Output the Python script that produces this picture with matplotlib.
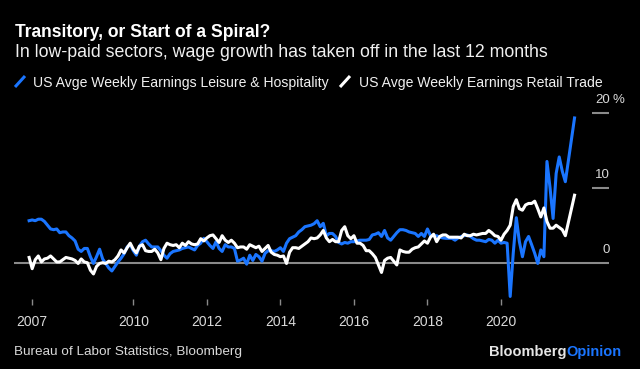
import matplotlib
matplotlib.use("Agg")
import matplotlib.pyplot as plt
from matplotlib import font_manager
from matplotlib.lines import Line2D
import pandas as pd
import numpy as np

# ---------------- data (YoY %, monthly, Mar 2007 - Jan 2022) ----------------
start_month = "2007-03"
leisure = [
    5.6, 5.7, 5.6, 5.8, 5.8, 5.5, 5.0, 4.5, 4.4, 4.5,                   # 2007
    4.0, 4.1, 4.1, 3.6, 3.3, 2.9, 1.8, 1.5, 1.9, 1.9, 0.8, -0.1,        # 2008
    0.8, 1.8, 0.5, -0.1, -0.7, -1.1, -0.5, 0.1, 0.6, 1.2, 2.1, 2.4,     # 2009
    1.6, 1.0, 2.2, 2.8, 3.0, 2.5, 2.1, 2.1, 2.1, 1.6, 1.0, 0.6,         # 2010
    1.2, 1.5, 1.6, 1.7, 1.9, 2.0, 2.1, 1.9, 1.7, 2.3, 2.6, 3.25,        # 2011
    2.8, 2.3, 1.9, 2.8, 1.9, 1.5, 2.4, 2.1, 2.1, 1.9, 0.2, 0.36,        # 2012
    0.6, -0.2, 1.0, 0.3, 1.1, 0.8, 0.2, 1.25, 1.6, 1.6, 1.5, 1.7,       # 2013
    2.0, 1.5, 2.6, 3.2, 3.4, 3.6, 4.1, 4.4, 4.8, 4.9, 5.0, 5.2,         # 2014
    5.6, 4.8, 5.25, 3.6, 3.9, 3.9, 3.5, 2.7, 2.5, 2.7, 2.6, 2.8,        # 2015
    2.8, 2.9, 3.0, 3.0, 3.0, 3.1, 3.7, 3.8, 4.0, 3.5, 4.3, 3.3,         # 2016
    3.0, 3.5, 4.0, 4.4, 4.4, 4.3, 4.1, 4.0, 3.9, 3.5, 3.9, 3.5,         # 2017
    4.5, 3.6, 3.6, 3.6, 3.4, 3.3, 3.25, 3.25, 3.25, 3.0, 3.3, 3.5,      # 2018
    3.6, 3.7, 3.5, 3.2, 3.0, 3.0, 2.9, 2.8, 3.1, 3.0, 2.6, 3.0,         # 2019
    2.6, 2.7, 2.6, -4.5, 1.3, 6.0, 2.8, 0.8, 2.8, 3.5, 2.4, 1.25,       # 2020
    -0.1, 1.7, 0.8, 13.5, 10.0, 5.9, 11.9, 14.1, 12.2, 10.8, 13.6, 16.5,  # 2021
    19.3,                                                              # 2022
]
retail = [
    0.7, -0.8, 0.4, 0.9, 0.1, 0.5, 0.6, 0.9, 0.5, 0.1,                  # 2007
    0.1, 0.4, 0.7, 0.6, 0.5, 0.3, -0.1, 0.5, 0.1, 0.0, -1.0, -1.5,      # 2008
    -0.5, -0.1, 0.0, -0.1, 0.2, 0.1, 0.4, 0.9, 1.7, 1.3, 2.0, 2.6,      # 2009
    1.8, 1.3, 2.2, 2.4, 1.6, 1.5, 1.5, 1.8, 1.3, 0.4, 1.9, 2.6,         # 2010
    2.4, 2.3, 2.4, 2.0, 2.6, 2.3, 2.8, 2.5, 2.4, 2.5, 3.2, 2.9,         # 2011
    3.3, 3.6, 3.7, 3.2, 2.7, 3.6, 3.0, 2.7, 3.0, 2.6, 2.0, 2.1,         # 2012
    2.1, 1.8, 2.4, 2.2, 2.0, 2.2, 1.5, 1.9, 2.3, 1.4, 1.1, 1.0,         # 2013
    0.8, 0.9, -0.1, 1.4, 2.0, 2.0, 1.9, 2.2, 2.5, 2.8, 3.3, 3.2,        # 2014
    3.3, 3.7, 4.3, 3.3, 2.8, 3.1, 2.8, 2.8, 4.3, 4.8, 3.6, 3.2,         # 2015
    3.6, 2.6, 2.6, 2.3, 1.6, 1.6, 1.2, 0.7, -0.3, -1.3, 0.3, 0.6,       # 2016
    0.7, 0.2, -0.3, 1.7, 1.5, 1.4, 1.4, 1.8, 2.0, 2.1, 2.5, 2.9,        # 2017
    2.6, 3.4, 3.8, 2.8, 3.5, 3.7, 3.7, 3.4, 3.4, 3.4, 3.4, 3.3,         # 2018
    3.8, 3.6, 3.6, 3.8, 3.7, 3.8, 3.9, 3.9, 4.3, 4.0, 3.6, 3.5,         # 2019
    3.0, 3.8, 4.3, 5.0, 7.5, 8.4, 7.2, 7.0, 7.7, 7.9, 7.9, 8.2,         # 2020
    7.2, 6.1, 7.3, 5.5, 4.6, 4.6, 5.0, 4.7, 4.4, 3.6, 5.4, 7.2,         # 2021
    9.0,                                                               # 2022
]
series_names = ["US Avge Weekly Earnings Leisure & Hospitality",
                "US Avge Weekly Earnings Retail Trade"]
x_tick_labels = ["2007", "2010", "2012", "2014", "2016", "2018", "2020"]
x_tick_years = [2007.25, 2010, 2012, 2014, 2016, 2018, 2020]
y_labels = ["0", "10", "20"]
y_values = [0, 10, 20]

title = "Transitory, or Start of a Spiral?"
subtitle = "In low-paid sectors, wage growth has taken off in the last 12 months"
source = "Bureau of Labor Statistics, Bloomberg"

# ---------------- style ----------------
BG = "#000000"
BLUE = "#1a75ff"
WHITE = "#ffffff"
GRID = "#8a8a8a"
TXT = "#d9d9d9"

names = {f.name for f in font_manager.fontManager.ttflist}
BASE = "Liberation Sans" if "Liberation Sans" in names else "DejaVu Sans"
TITLE_FONT = "Liberation Sans Narrow" if "Liberation Sans Narrow" in names else BASE

W, H = 640, 369
fig = plt.figure(figsize=(W / 100, H / 100), dpi=100, facecolor=BG)


def fx(x):
    return x / W


def fy(y):
    return 1 - y / H


dates = pd.date_range(start_month, periods=len(leisure), freq="MS")
xdec = dates.year + (dates.month - 1) / 12.0

# axes box in pixels
L, R, T, B = 14, 609, 105, 305
px_per_year = 36.77
x_2010 = 133.3
y0_px, px_per_unit = 262.7, 7.5

ax = fig.add_axes([fx(L), fy(B), (R - L) / W, (B - T) / H])
ax.set_facecolor(BG)
ax.set_xlim(2010 + (L - x_2010) / px_per_year, 2010 + (R - x_2010) / px_per_year)
ax.set_ylim((y0_px - B) / px_per_unit, (y0_px - T) / px_per_unit)
for s in ax.spines.values():
    s.set_visible(False)

ax.axhline(0, color=GRID, lw=1.5, zorder=1)
stub_l = 2010 + (592 - x_2010) / px_per_year
stub_r = 2010 + (R - x_2010) / px_per_year
ax.hlines([10, 20], stub_l, stub_r, color=GRID, lw=1.5, zorder=1)

ax.plot(xdec, leisure, color=BLUE, lw=2.2, solid_joinstyle="round", zorder=3)
ax.plot(xdec, retail, color=WHITE, lw=2.2, solid_joinstyle="round", zorder=4)

ax.set_yticks([])
ax.set_xticks(x_tick_years)
ax.set_xticklabels(x_tick_labels, fontsize=10, color=TXT, family=BASE)
ax.tick_params(axis="x", direction="in", length=4, width=1, color=GRID, pad=7)

# right-hand value labels
lab_x = 2010 + (610 - x_2010) / px_per_year
pct_x = 2010 + (613 - x_2010) / px_per_year
for v, lab in zip(y_values, y_labels):
    ax.text(lab_x, v + 1.3, lab, ha="right", va="baseline", fontsize=9.5,
            color=TXT, family=BASE, clip_on=False)
ax.text(pct_x, y_values[-1] + 1.3, "%", ha="left", va="baseline", fontsize=9.5,
        color=TXT, family=BASE, clip_on=False)

# ---------------- header texts ----------------
renderer = fig.canvas.get_renderer()


def fit(t, width):
    for _ in range(3):
        w = t.get_window_extent(renderer).width
        t.set_fontsize(t.get_fontsize() * width / w)


t1 = fig.text(fx(15), fy(36.7), title, color=WHITE, fontsize=14,
              fontweight="bold", family=TITLE_FONT, va="baseline")
fit(t1, 257)
t2 = fig.text(fx(15), fy(56.7), subtitle, color="#f0f0f0", fontsize=11.5,
              family=BASE, va="baseline")
fit(t2, 532)
leg1 = fig.text(fx(33), fy(86.5), series_names[0], color="#f0f0f0",
                fontsize=9.5, family=BASE, va="baseline")
fit(leg1, 295)
leg2 = fig.text(fx(359), fy(86.5), series_names[1], color="#f0f0f0",
                fontsize=leg1.get_fontsize(), family=BASE, va="baseline")

for (x0, col) in [(15, BLUE), (340, WHITE)]:
    fig.add_artist(Line2D([fx(x0), fx(x0 + 10)], [fy(87), fy(76)],
                          transform=fig.transFigure, color=col, lw=2.2,
                          solid_capstyle="butt"))

src = fig.text(fx(14), fy(355), source, color=TXT, fontsize=9,
               family=BASE, va="baseline")
fit(src, 228)

b1 = fig.text(fx(489), fy(356), "Bloomberg", color="#e6e6e6", fontsize=10.5,
              fontweight="bold", family=BASE, va="baseline")
fig.canvas.draw()
bb = b1.get_window_extent(renderer)
fig.text(bb.x1 / W, fy(356), "Opinion", color=BLUE, fontsize=10.5,
         fontweight="bold", family=BASE, va="baseline")

fig.savefig("out.png", dpi=100, facecolor=BG)
